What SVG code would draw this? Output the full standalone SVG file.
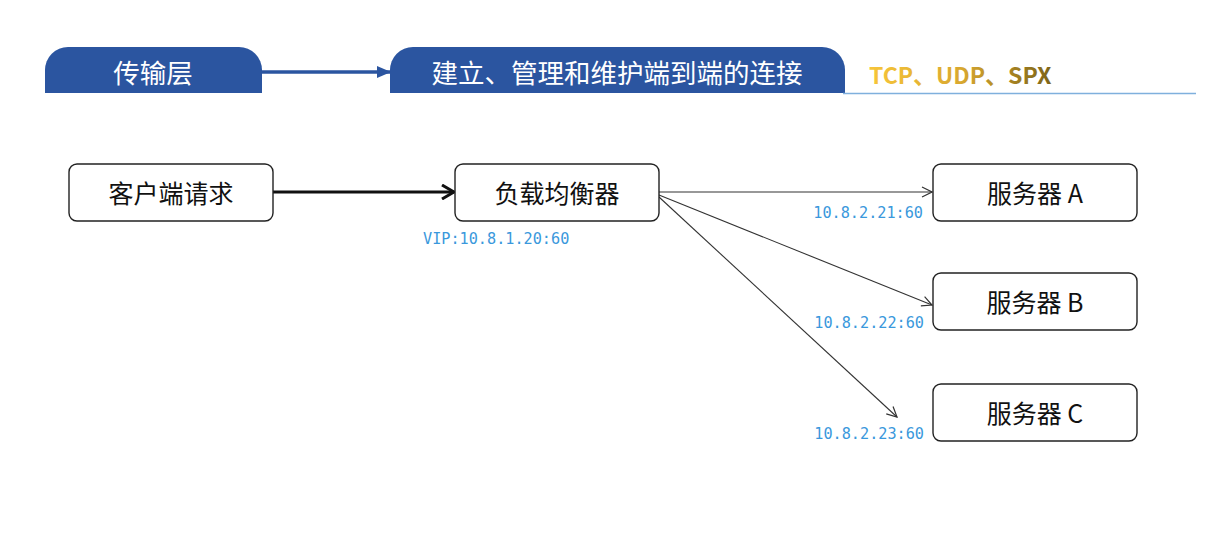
<svg xmlns="http://www.w3.org/2000/svg" width="1226" height="536" viewBox="0 0 1226 536">
<defs>
<style>
.pill{fill:#2b55a0}
.ptxt{fill:#fff;font-family:"Noto Sans CJK SC","Noto Sans",sans-serif;font-size:26.5px;text-anchor:middle;dominant-baseline:central}
.box{fill:#fff;stroke:#222;stroke-width:1.4}
.ntxt{fill:#111;font-family:"Noto Sans CJK SC","Noto Sans",sans-serif;font-size:25px;text-anchor:middle;dominant-baseline:central}
.ip{fill:#3a98dc;font-family:"DejaVu Sans Mono","Liberation Mono",monospace;font-size:15.2px}
.thin{stroke:#333;stroke-width:1.1;fill:none}
</style>
<marker id="chev" viewBox="0 0 12 12" refX="11" refY="6" markerWidth="12" markerHeight="12" markerUnits="userSpaceOnUse" orient="auto">
<path d="M1,1 L11,6 L1,11" fill="none" stroke="#333" stroke-width="1.2"/>
</marker>
<marker id="chevBold" viewBox="0 0 16 16" refX="14" refY="8" markerWidth="16" markerHeight="16" markerUnits="userSpaceOnUse" orient="auto">
<path d="M2,1 L14,8 L2,15" fill="none" stroke="#111" stroke-width="3"/>
</marker>
<marker id="blueTri" viewBox="0 0 14 12" refX="13" refY="6" markerWidth="14" markerHeight="12" markerUnits="userSpaceOnUse" orient="auto">
<path d="M0,0 L14,6 L0,12 Z" fill="#2b55a0"/>
</marker>
<linearGradient id="gold" x1="0" y1="0" x2="1" y2="0">
<stop offset="0" stop-color="#f7c53a"/>
<stop offset="0.5" stop-color="#d9a830"/>
<stop offset="1" stop-color="#7d6418"/>
</linearGradient>
</defs>

<g id="header">
<g id="layer">
<path class="pill" d="M68,47 H239 A23,23 0 0 1 262,70 V93 H45 V70 A23,23 0 0 1 68,47 Z"/>
<text class="ptxt" x="153" y="71">传输层</text>
</g>
<g id="desc">
<path class="pill" d="M413,47 H822 A23,23 0 0 1 845,70 V93 H390 V70 A23,23 0 0 1 413,47 Z"/>
<text class="ptxt" x="617" y="71">建立、管理和维护端到端的连接</text>
</g>
<line x1="262" y1="72" x2="390" y2="72" stroke="#2b55a0" stroke-width="3.5" marker-end="url(#blueTri)"/>
<g id="protocols">
<text x="869" y="84" font-family="'Noto Sans CJK SC','Noto Sans',sans-serif" font-weight="bold" font-size="23" fill="url(#gold)">TCP、UDP、SPX</text>
<line x1="843" y1="93.5" x2="1196" y2="93.5" stroke="#7fb0dd" stroke-width="1.3"/>
</g>
</g>

<g id="connectors">
<line x1="273" y1="192" x2="454" y2="192" stroke="#111" stroke-width="3" marker-end="url(#chevBold)"/>
<line class="thin" x1="659" y1="192" x2="932" y2="192" marker-end="url(#chev)"/>
<line class="thin" x1="659" y1="195" x2="932" y2="305" marker-end="url(#chev)"/>
<line class="thin" x1="659" y1="197" x2="897" y2="417" marker-end="url(#chev)"/>
</g>

<g id="client">
<rect class="box" x="69" y="164" width="204" height="57" rx="8"/>
<text class="ntxt" x="171" y="192">客户端请求</text>
</g>
<g id="lb">
<rect class="box" x="455" y="164" width="204" height="57" rx="8"/>
<text class="ntxt" x="557" y="192">负载均衡器</text>
<text class="ip" x="423" y="244">VIP:10.8.1.20:60</text>
</g>
<g id="serverA">
<rect class="box" x="933" y="164" width="204" height="57" rx="8"/>
<text class="ntxt" x="1035" y="192">服务器 A</text>
<text class="ip" x="923" y="218" text-anchor="end">10.8.2.21:60</text>
</g>
<g id="serverB">
<rect class="box" x="933" y="273" width="204" height="57" rx="8"/>
<text class="ntxt" x="1035" y="301">服务器 B</text>
<text class="ip" x="924" y="328" text-anchor="end">10.8.2.22:60</text>
</g>
<g id="serverC">
<rect class="box" x="933" y="384" width="204" height="57" rx="8"/>
<text class="ntxt" x="1035" y="412">服务器 C</text>
<text class="ip" x="924" y="439" text-anchor="end">10.8.2.23:60</text>
</g>
</svg>
